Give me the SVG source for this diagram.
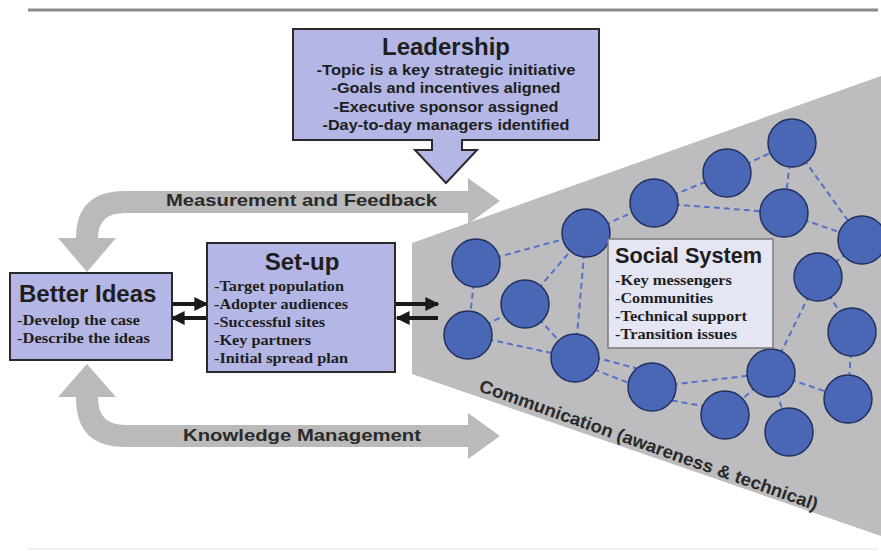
<svg xmlns="http://www.w3.org/2000/svg" width="881" height="551" viewBox="0 0 881 551">
<defs>
<style>
.box{fill:#b4b7e5;stroke:#2a2a2a;stroke-width:2}
.gray{fill:#bababa}
.cone{fill:#bdbdbf}
.title{font-family:"Liberation Sans",Arial,sans-serif;font-weight:bold;font-size:24px;fill:#1e1e1e}
.item{font-family:"Liberation Sans",Arial,sans-serif;font-weight:bold;font-size:15px;fill:#1e1e1e}
.sitem{font-family:"Liberation Serif","Times New Roman",serif;font-weight:bold;font-size:15px;fill:#1e1e1e}
.band{font-family:"Liberation Sans",Arial,sans-serif;font-weight:bold;font-size:17px;fill:#2a2a2a}
.node{fill:#4a67b6;stroke:#22305e;stroke-width:1.5}
.edge{stroke:#5671c6;stroke-width:2;stroke-dasharray:6 4;fill:none}
.blk{stroke:#1a1a1a;stroke-width:4;fill:none}
</style>
<marker id="ah" viewBox="0 0 10 10" refX="9" refY="5" markerWidth="14" markerHeight="14" markerUnits="userSpaceOnUse" orient="auto">
<path d="M0,0 L10,5 L0,10 Z" fill="#1a1a1a"/>
</marker>
</defs>
<rect width="881" height="551" fill="#ffffff"/>
<line x1="28" y1="10" x2="878" y2="10" stroke="#8a8a8a" stroke-width="3"/>
<line x1="28" y1="549" x2="878" y2="549" stroke="#ececec" stroke-width="1.5"/>

<!-- cone -->
<polygon class="cone" points="412,243 881,76 881,536 412,374"/>

<!-- feedback loops -->
<g id="measurement-feedback">
<path class="gray" d="M468,178 L500,201 L468,224 L468,213 L125,213 Q98,213 98,238 L116,238 L87,272 L58,238 L76,238 Q76,191 125,191 L468,191 Z"/>
<text class="band" x="166" y="206" textLength="271" lengthAdjust="spacingAndGlyphs">Measurement and Feedback</text>
</g>
<g id="knowledge-management">
<path class="gray" d="M468,413 L500,436 L468,459 L468,447 L125,447 Q76,447 76,398 L76,397 L58,397 L87,364 L116,397 L98,397 L98,398 Q98,425 125,425 L468,425 Z"/>
<text class="band" x="183" y="441" textLength="238" lengthAdjust="spacingAndGlyphs">Knowledge Management</text>
</g>

<!-- connectors -->
<g id="connectors">
<line class="blk" x1="172" y1="304" x2="207" y2="304" marker-end="url(#ah)"/>
<line class="blk" x1="207" y1="318" x2="172" y2="318" marker-end="url(#ah)"/>
<line class="blk" x1="395" y1="304" x2="438" y2="304" marker-end="url(#ah)"/>
<line class="blk" x1="438" y1="318" x2="397" y2="318" marker-end="url(#ah)"/>
<g id="network-edges">
<line class="edge" x1="476" y1="263" x2="586" y2="233"/>
<line class="edge" x1="476" y1="263" x2="468" y2="335"/>
<line class="edge" x1="468" y1="335" x2="525" y2="304"/>
<line class="edge" x1="525" y1="304" x2="586" y2="233"/>
<line class="edge" x1="525" y1="304" x2="575" y2="358"/>
<line class="edge" x1="468" y1="335" x2="575" y2="358"/>
<line class="edge" x1="586" y1="233" x2="575" y2="358"/>
<line class="edge" x1="586" y1="233" x2="654" y2="203"/>
<line class="edge" x1="654" y1="203" x2="727" y2="173"/>
<line class="edge" x1="727" y1="173" x2="792" y2="143"/>
<line class="edge" x1="654" y1="203" x2="784" y2="213"/>
<line class="edge" x1="792" y1="143" x2="784" y2="213"/>
<line class="edge" x1="792" y1="143" x2="862" y2="240"/>
<line class="edge" x1="784" y1="213" x2="862" y2="240"/>
<line class="edge" x1="862" y1="240" x2="818" y2="277"/>
<line class="edge" x1="818" y1="277" x2="852" y2="332"/>
<line class="edge" x1="818" y1="277" x2="771" y2="373"/>
<line class="edge" x1="852" y1="332" x2="848" y2="399"/>
<line class="edge" x1="771" y1="373" x2="848" y2="399"/>
<line class="edge" x1="575" y1="352" x2="650" y2="372"/>
<line class="edge" x1="575" y1="362" x2="652" y2="392"/>
<line class="edge" x1="652" y1="387" x2="771" y2="373"/>
<line class="edge" x1="652" y1="397" x2="725" y2="410"/>
<line class="edge" x1="771" y1="373" x2="725" y2="415"/>
<line class="edge" x1="771" y1="373" x2="789" y2="432"/>
</g>
</g>

<!-- network nodes -->
<g id="network-nodes">
<circle id="n1" class="node" cx="476" cy="263" r="24"/>
<circle id="n2" class="node" cx="468" cy="335" r="24"/>
<circle id="n3" class="node" cx="525" cy="304" r="24"/>
<circle id="n4" class="node" cx="586" cy="233" r="24"/>
<circle id="n5" class="node" cx="575" cy="358" r="24"/>
<circle id="n6" class="node" cx="654" cy="203" r="24"/>
<circle id="n7" class="node" cx="727" cy="173" r="24"/>
<circle id="n8" class="node" cx="792" cy="143" r="24"/>
<circle id="n9" class="node" cx="784" cy="213" r="24"/>
<circle id="n10" class="node" cx="862" cy="240" r="24"/>
<circle id="n11" class="node" cx="818" cy="277" r="24"/>
<circle id="n12" class="node" cx="852" cy="332" r="24"/>
<circle id="n13" class="node" cx="771" cy="373" r="24"/>
<circle id="n14" class="node" cx="848" cy="399" r="24"/>
<circle id="n15" class="node" cx="652" cy="387" r="24"/>
<circle id="n16" class="node" cx="725" cy="415" r="24"/>
<circle id="n17" class="node" cx="789" cy="432" r="24"/>
</g>

<g id="leadership">
<path class="box" d="M293,29 H599 V140 H462 V150 H477 L446,183 L415,150 H432 V140 H293 Z"/>
<text class="title" x="446" y="55" text-anchor="middle">Leadership</text>
<text class="item" x="446" y="75" text-anchor="middle" textLength="259" lengthAdjust="spacingAndGlyphs">-Topic is a key strategic initiative</text>
<text class="item" x="446" y="93" text-anchor="middle" textLength="229" lengthAdjust="spacingAndGlyphs">-Goals and incentives aligned</text>
<text class="item" x="446" y="112" text-anchor="middle" textLength="225" lengthAdjust="spacingAndGlyphs">-Executive sponsor assigned</text>
<text class="item" x="446" y="130" text-anchor="middle" textLength="247" lengthAdjust="spacingAndGlyphs">-Day-to-day managers identified</text>
</g>

<g id="better-ideas">
<rect class="box" x="10" y="273" width="162" height="87"/>
<text class="title" x="19" y="302">Better Ideas</text>
<text class="sitem" x="17" y="325" textLength="123" lengthAdjust="spacingAndGlyphs">-Develop the case</text>
<text class="sitem" x="17" y="343" textLength="133" lengthAdjust="spacingAndGlyphs">-Describe the ideas</text>
</g>

<g id="set-up">
<rect class="box" x="207" y="243" width="188" height="129"/>
<text class="title" x="302" y="270" text-anchor="middle">Set-up</text>
<text class="sitem" x="214" y="291" textLength="130" lengthAdjust="spacingAndGlyphs">-Target population</text>
<text class="sitem" x="214" y="309" textLength="134" lengthAdjust="spacingAndGlyphs">-Adopter audiences</text>
<text class="sitem" x="214" y="327" textLength="111" lengthAdjust="spacingAndGlyphs">-Successful sites</text>
<text class="sitem" x="214" y="345" textLength="97" lengthAdjust="spacingAndGlyphs">-Key partners</text>
<text class="sitem" x="214" y="363" textLength="134" lengthAdjust="spacingAndGlyphs">-Initial spread plan</text>
</g>

<g id="social-system">
<rect x="608" y="239" width="165" height="109" fill="#e4e6f4" stroke="#7a7a7a" stroke-width="1.5"/>
<text class="title" x="615" y="263" style="font-size:22px" textLength="147" lengthAdjust="spacingAndGlyphs">Social System</text>
<text class="sitem" x="615" y="285" style="font-size:14px" textLength="117" lengthAdjust="spacingAndGlyphs">-Key messengers</text>
<text class="sitem" x="615" y="303" style="font-size:14px" textLength="98" lengthAdjust="spacingAndGlyphs">-Communities</text>
<text class="sitem" x="615" y="321" style="font-size:14px" textLength="132" lengthAdjust="spacingAndGlyphs">-Technical support</text>
<text class="sitem" x="615" y="339" style="font-size:14px" textLength="122" lengthAdjust="spacingAndGlyphs">-Transition issues</text>
</g>

<text id="communication" class="band" x="0" y="0" style="font-size:18px" transform="translate(478,391) rotate(19.5)" textLength="358" lengthAdjust="spacingAndGlyphs">Communication (awareness &amp; technical)</text>
</svg>
